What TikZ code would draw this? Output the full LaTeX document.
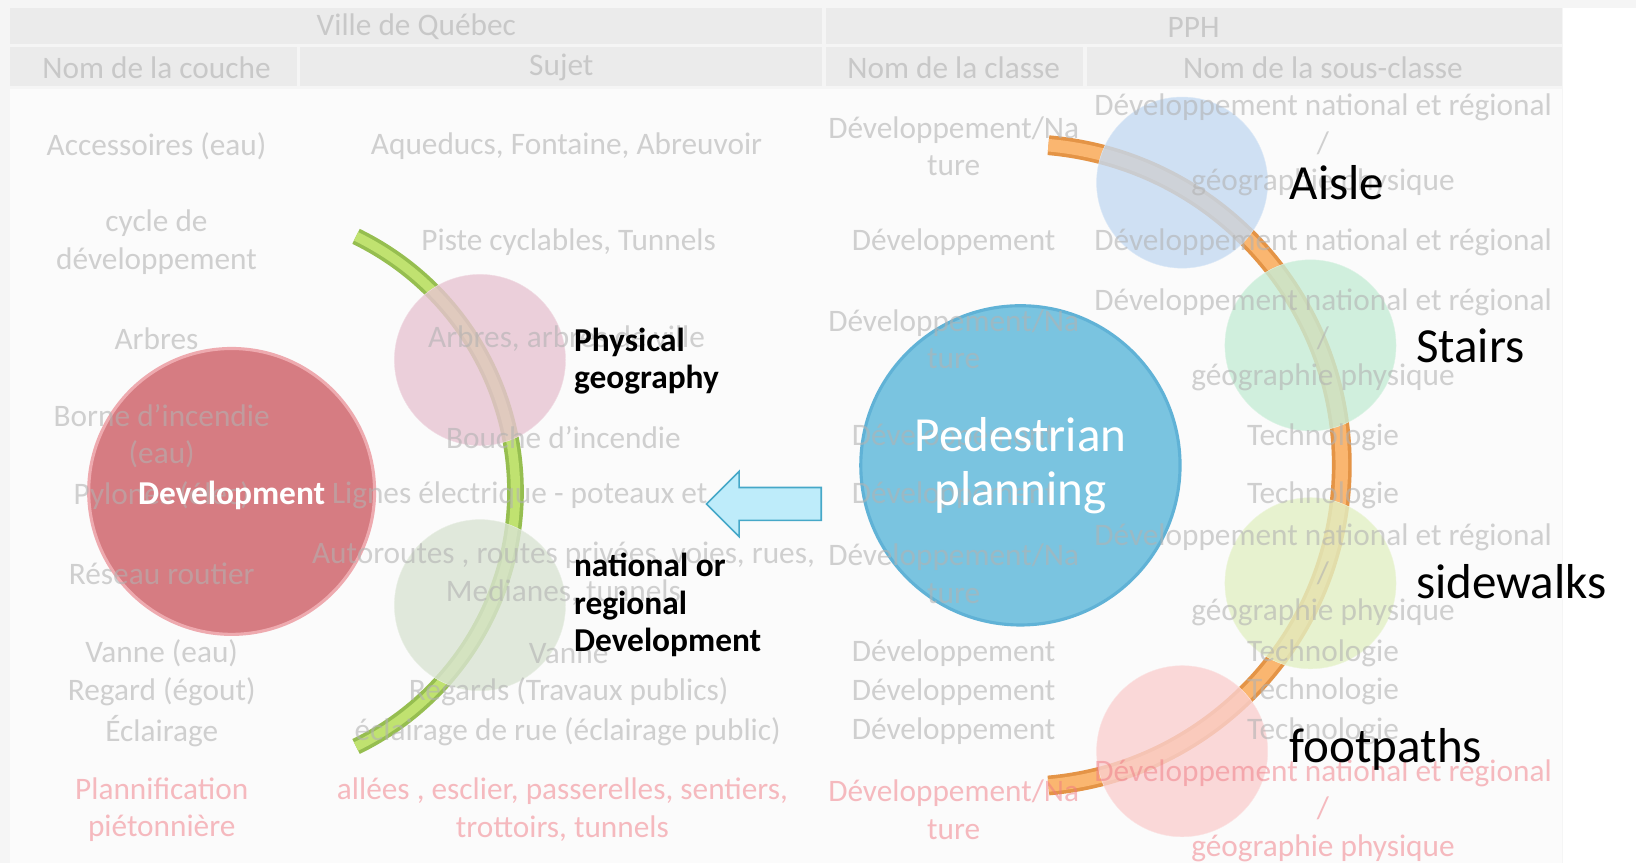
\documentclass[tikz,border=0pt]{standalone}
\usepackage{fontspec}
\setmainfont{Carlito}
\usetikzlibrary{shapes.arrows}

\definecolor{devred}{RGB}{214,124,130}
\definecolor{devrim}{RGB}{238,170,175}
\definecolor{pedblue}{RGB}{122,196,224}
\definecolor{pedrim}{RGB}{96,178,214}
\definecolor{greenarc}{RGB}{150,190,80}
\definecolor{greenin}{RGB}{192,226,112}
\definecolor{orangearc}{RGB}{228,148,70}
\definecolor{orangein}{RGB}{250,182,112}
\definecolor{physpink}{RGB}{232,196,210}
\definecolor{natgray}{RGB}{218,228,212}
\definecolor{aisleblue}{RGB}{196,218,242}
\definecolor{stairgreen}{RGB}{198,236,214}
\definecolor{walkyellow}{RGB}{226,240,196}
\definecolor{pathpink}{RGB}{250,208,208}
\definecolor{arrowfill}{RGB}{190,236,250}
\definecolor{arrowline}{RGB}{70,168,200}
\definecolor{pinktext}{RGB}{240,120,130}

\begin{document}
\begin{tikzpicture}[x=1pt,y=1pt,
  cell/.style={font=\fontsize{30}{36}\selectfont, text=gray!60, text opacity=0.6, align=center, inner sep=0pt},
  pinkcell/.style={cell, text=pinktext, text opacity=0.5},
  hcell/.style={fill=gray!16},
  bubble/.style={circle, minimum size=164pt, inner sep=0pt, fill opacity=0.8},
  tag/.style={font=\fontsize{32}{36}\selectfont\bfseries, align=left, anchor=west, inner sep=0pt},
  item/.style={font=\fontsize{47}{52}\selectfont, anchor=west, inner sep=0pt}]
\useasboundingbox (0,0) rectangle (1568,-827);
\fill[gray!8] (0,0) rectangle (1568,-827);
\fill[white] (1498,-8) rectangle (1568,-827);
\fill[gray!3] (10,-85) rectangle (1497,-827);

\fill[hcell] (10,-8) rectangle (788,-42);
\fill[hcell] (792,-8) rectangle (1497,-42);
\fill[hcell] (10,-45) rectangle (285,-82);
\fill[hcell] (288,-45) rectangle (788,-82);
\fill[hcell] (792,-45) rectangle (1038,-82);
\fill[hcell] (1042,-45) rectangle (1497,-82);

\draw[greenarc, line width=16pt] (222,-471) ++(64:272) arc[start angle=64, end angle=-64, radius=272];
\draw[greenin, line width=9pt] (222,-471) ++(64:272) arc[start angle=64, end angle=-64, radius=272];
\draw[orangearc, line width=19pt] (978,-446) ++(85:308) arc[start angle=85, end angle=-85, radius=308];
\draw[orangein, line width=12pt] (978,-446) ++(85:308) arc[start angle=85, end angle=-85, radius=308];

\node[circle, minimum size=274pt, fill=devred, draw=devrim, line width=3pt] (dev) at (222,-471) {};
\node[circle, minimum size=306pt, fill=pedblue, draw=pedrim, line width=3pt] (ped) at (978,-446) {};

\node[bubble, fill=physpink, draw=physpink!60] (phys) at (460,-345) {};
\node[bubble, fill=natgray, draw=natgray!60] (nat) at (460,-580) {};
\node[bubble, fill=aisleblue, draw=aisleblue!60] (aisle) at (1133,-175) {};
\node[bubble, fill=stairgreen, draw=stairgreen!60] (stairs) at (1256,-331) {};
\node[bubble, fill=walkyellow, draw=walkyellow!60] (walks) at (1256,-559) {};
\node[bubble, fill=pathpink, draw=pathpink!60] (paths) at (1133,-720) {};

\node[cell] (ville) at (399,-26) {Ville de Québec};
\node[cell] (pph) at (1144,-26) {PPH};
\node[cell] (couche) at (150,-65) {Nom de la couche};
\node[cell] (sujet) at (538,-65) {Sujet};
\node[cell] (classe) at (914,-65) {Nom de la classe};
\node[cell] (sous) at (1268,-65) {Nom de la sous-classe};

\node[cell] (r1a) at (150,-140) {Accessoires (eau)};
\node[cell] (r1b) at (543,-140) {Aqueducs, Fontaine, Abreuvoir};
\node[cell] (r1c) at (914,-140) {Développement/Na\\ture};
\node[cell] (r1d) at (1268,-139) {Développement national et régional\\/\\géographie physique};

\node[cell] (r2a) at (150,-232) {cycle de\\développement};
\node[cell] (r2b) at (545,-232) {Piste cyclables, Tunnels};
\node[cell] (r2c) at (914,-232) {Développement};
\node[cell] (r2d) at (1268,-232) {Développement national et régional};

\node[cell] (r3a) at (150,-325) {Arbres};
\node[cell] (r3b) at (543,-325) {Arbres, arbres de ville};
\node[cell] (r3c) at (914,-325) {Développement/Na\\ture};
\node[cell] (r3d) at (1268,-326) {Développement national et régional\\/\\géographie physique};

\node[cell] (r4a) at (155,-418) {Borne d'incendie\\(eau)};
\node[cell] (r4b) at (540,-419) {Bouche d'incendie};
\node[cell] (r4c) at (914,-419) {Développement};
\node[cell] (r4d) at (1268,-419) {Technologie};

\node[cell] (r5a) at (155,-475) {Pylones (élec)};
\node[cell, anchor=west] (r5b) at (318,-475) {Lignes électrique - poteaux et};
\node[cell] (r5c) at (914,-475) {Développement};
\node[cell] (r5d) at (1268,-475) {Technologie};

\node[cell] (r6a) at (155,-550) {Réseau routier};
\node[cell] (r6b) at (540,-550) {Autoroutes , routes privées, voies, rues,\\Medianes, tunnels};
\node[cell] (r6c) at (914,-550) {Développement/Na\\ture};
\node[cell] (r6d) at (1268,-551) {Développement national et régional\\/\\géographie physique};

\node[cell] (r7a) at (155,-626) {Vanne (eau)};
\node[cell] (r7b) at (545,-626) {Vanne};
\node[cell] (r7c) at (914,-626) {Développement};
\node[cell] (r7d) at (1268,-626) {Technologie};

\node[cell] (r8a) at (155,-663) {Regard (égout)};
\node[cell] (r8b) at (545,-663) {Regards (Travaux publics)};
\node[cell] (r8c) at (914,-663) {Développement};
\node[cell] (r8d) at (1268,-663) {Technologie};

\node[cell] (r9a) at (155,-701) {Éclairage};
\node[cell] (r9b) at (544,-701) {éclairage de rue (éclairage public)};
\node[cell] (r9c) at (914,-701) {Développement};
\node[cell] (r9d) at (1268,-701) {Technologie};

\node[pinkcell] (r10a) at (155,-776) {Plannification\\piétonnière};
\node[pinkcell] (r10b) at (539,-776) {allées , esclier, passerelles, sentiers,\\trottoirs, tunnels};
\node[pinkcell] (r10c) at (914,-776) {Développement/Na\\ture};
\node[pinkcell] (r10d) at (1268,-777) {Développement national et régional\\/\\géographie physique};

\node[single arrow, shape border rotate=180, draw=arrowline, fill=arrowfill, line width=1.5pt,
  minimum height=110pt, inner xsep=0pt, inner ysep=15pt, single arrow head extend=15.5pt] (back) at (740,-483) {};

\node[font=\fontsize{32}{36}\selectfont\bfseries, text=white] (devtext) at (222,-475) {Development};
\node[font=\fontsize{47}{52}\selectfont, text=white, align=center] (pedtext) at (ped) {Pedestrian\\planning};

\node[tag] (physlabel) at (550,-346) {Physical\\geography};
\node[tag] (natlabel) at (550,-580) {national or\\regional\\Development};
\node[item] (aislelabel) at (1236,-175) {Aisle};
\node[item] (stairslabel) at (1357,-331) {Stairs};
\node[item] (walkslabel) at (1357,-557) {sidewalks};
\node[item] (pathslabel) at (1236,-718) {footpaths};
\end{tikzpicture}
\end{document}
